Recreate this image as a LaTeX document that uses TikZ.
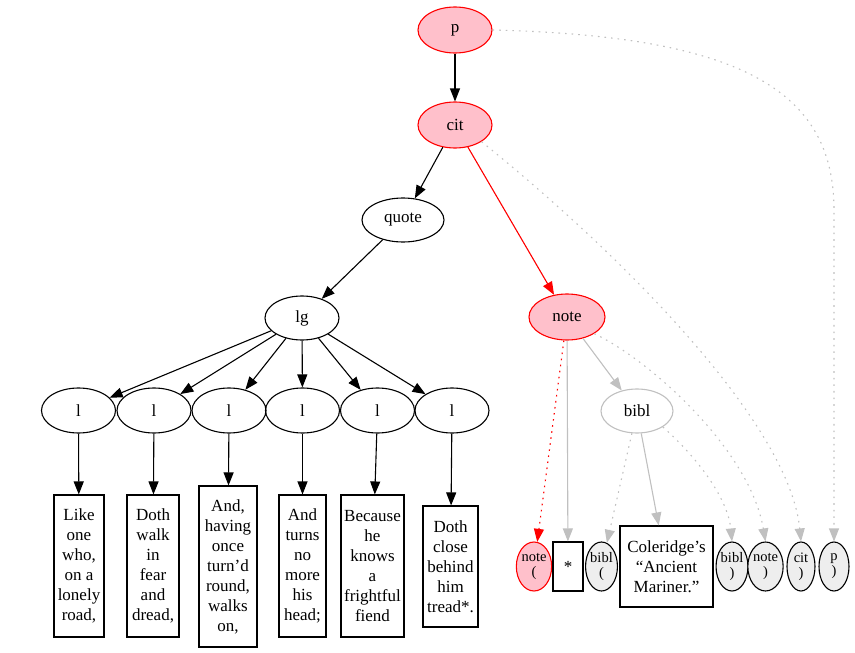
\documentclass[tikz,border=0pt]{standalone}
\usepackage{fontspec}
\setmainfont{Liberation Serif}
\usetikzlibrary{shapes.geometric,arrows.meta}
\definecolor{pinkf}{HTML}{FFC0CB}
\definecolor{edgegray}{HTML}{C0C0C0}
\definecolor{endfill}{HTML}{EEEEEE}
\tikzset{
  every node/.style={font=\fontsize{17}{20}\selectfont, inner sep=0pt},
  ell/.style={ellipse, draw=black, line width=1.1pt, minimum width=#1, minimum height=45pt},
  hot/.style={ellipse, draw=red, fill=pinkf, line width=1.1pt, minimum width=#1, minimum height=46pt},
  grayell/.style={ellipse, draw=edgegray, line width=1.1pt, minimum width=72pt, minimum height=44pt},
  txt/.style={rectangle, draw=black, line width=1.1pt, align=center, minimum width=#1, minimum height=142pt},
  endell/.style={ellipse, draw=black, fill=endfill, line width=1.1pt, minimum width=#1, minimum height=49pt, align=center, font=\fontsize{14.5}{15}\selectfont},
  tip/.style={-{Triangle[length=13pt,width=10pt]}},
  blk/.style={tip, draw=black, line width=1.1pt},
  redline/.style={tip, draw=red, line width=1.1pt},
  grayline/.style={tip, draw=edgegray, line width=1.1pt},
  dots/.style={dash pattern=on 1.6pt off 5pt},
}
\begin{document}
\begin{tikzpicture}[x=1pt,y=-1pt]
\useasboundingbox (0,0) rectangle (855,653);
% upper nodes
\node[hot=74pt] (p) at (455,30) {p};
\node[hot=74pt] (cit) at (455,125) {cit};
\node[ell=82pt, minimum height=44pt] (quote) at (403,220) {quote};
\node[ell=74pt, minimum height=44pt] (lg) at (302,318) {lg};
\node[hot=76pt] (note) at (567,317) {note};
\node[grayell] (bibl) at (637,411) {bibl};
% l nodes
\node[ell=74pt] (l1) at (78.5,410.5) {l};
\node[ell=74pt] (l2) at (154,410.5) {l};
\node[ell=74pt] (l3) at (229,410.5) {l};
\node[ell=74pt] (l4) at (302.5,410.5) {l};
\node[ell=74pt] (l5) at (377.5,410.5) {l};
\node[ell=74pt] (l6) at (452,410.5) {l};
% text boxes
\node[txt=50pt] (t1) at (79,566) {Like\\one\\who,\\on a\\lonely\\road,};
\node[txt=52pt] (t2) at (153,566) {Doth\\walk\\in\\fear\\and\\dread,};
\node[txt=58pt, minimum height=161pt] (t3) at (228,566.5) {And,\\having\\once\\turn’d\\round,\\walks\\on,};
\node[txt=47pt] (t4) at (302.5,566) {And\\turns\\no\\more\\his\\head;};
\node[txt=63pt] (t5) at (372.5,566) {Because\\he\\knows\\a\\frightful\\fiend};
\node[txt=55pt, minimum height=121pt] (t6) at (450.5,566.5) {Doth\\close\\behind\\him\\tread*.};
% bottom right
\node[endell=34pt, draw=red, fill=pinkf] (noteo) at (534,566.5) {note\\(};
\node[rectangle, draw=black, line width=1.1pt, minimum width=30pt, minimum height=49pt] (star) at (568,566.5) {*};
\node[endell=31pt] (biblo) at (601.5,566.5) {bibl\\(};
\node[rectangle, draw=black, line width=1.1pt, minimum width=93pt, minimum height=81pt, align=center] (cole) at (666.5,566.5) {Coleridge’s\\“Ancient\\Mariner.”};
\node[endell=30pt] (biblc) at (732,566.5) {bibl\\)};
\node[endell=29pt] (notec) at (765.5,566.5) {note\\)};
\node[endell=28pt] (citc) at (801,566.5) {cit\\)};
\node[endell=30pt] (pc) at (834,566.5) {p\\)};
% edges
\draw[blk] (p) -- (cit);
\draw[blk] (cit) -- (quote);
\draw[redline] (cit) -- (note);
\draw[blk] (quote) -- (lg);
\foreach \i in {1,...,6} {
  \draw[blk] (lg) -- (l\i);
  \draw[blk] (l\i) -- (t\i);
}
\draw[redline, dash pattern=on 1.6pt off 4.5pt] (note) -- (noteo);
\draw[grayline] (note) -- (star);
\draw[grayline] (note) -- (bibl);
\draw[grayline, dots] (bibl) -- (biblo);
\draw[grayline] (bibl) -- (cole);
\draw[grayline, dots] (bibl.south east) .. controls (700,460) and (728,500) .. (biblc.north);
\draw[grayline, dots] (note.south east) .. controls (650,360) and (750,450) .. (notec.north);
\draw[grayline, dots] (cit.south east) .. controls (640,270) and (790,430) .. (citc.north);
\draw[grayline, dots] (p.east) .. controls (740,36) and (834,90) .. (834,210) -- (pc.north);
\end{tikzpicture}
\end{document}
